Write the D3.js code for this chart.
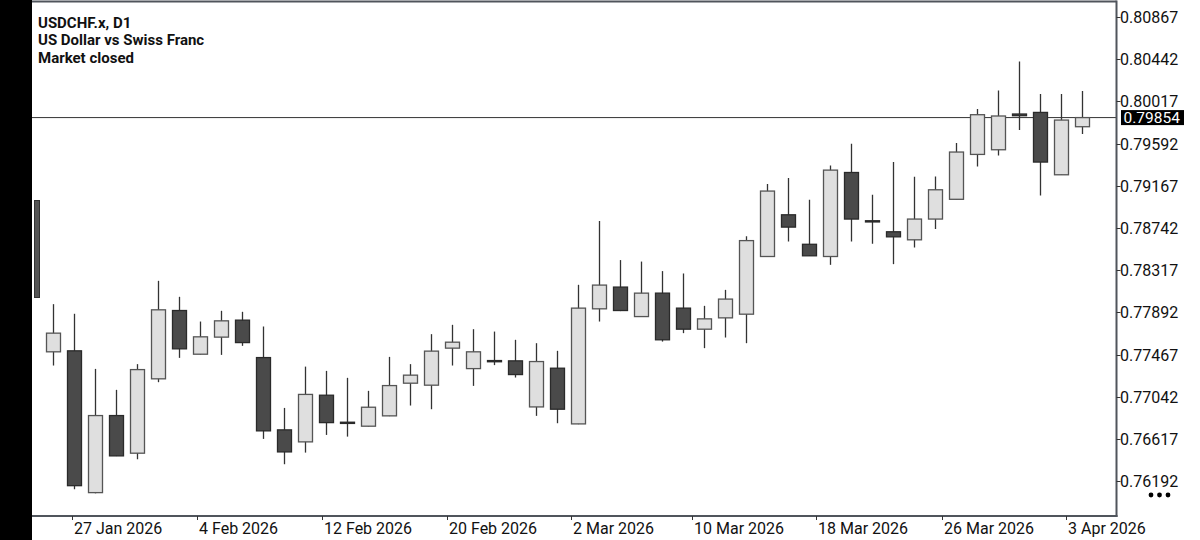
<!DOCTYPE html>
<html><head><meta charset="utf-8">
<script src="https://cdn.jsdelivr.net/npm/d3@7"></script>
<style>
body{margin:0;background:#fff;}
svg{display:block;font-family:Roboto,"Noto Sans",sans-serif;}
</style>
</head><body>
<svg id="c" width="1200" height="540"></svg>
<script>
// ---- data ----
const opens  = [0.77495,0.77505,0.76077,0.76853,0.76474,0.77223,0.77911,0.77471,0.77643,0.77814,
                0.77437,0.76709,0.76588,0.77058,0.76786,0.76746,0.76850,0.77179,0.77159,0.77532,
                0.77326,0.77407,0.77404,0.76940,0.77330,0.76769,0.77928,0.78147,0.77850,0.78086,
                0.77935,0.77723,0.77837,0.77874,0.78455,0.78875,0.78578,0.78455,0.79301,0.78815,
                0.78704,0.78623,0.78832,0.79031,0.79483,0.79530,0.79890,0.79906,0.79278,0.79762];
const highs  = [0.77975,0.77878,0.77323,0.77112,0.77371,0.78210,0.78049,0.77800,0.77908,0.77898,
                0.77750,0.76930,0.77346,0.77303,0.77233,0.77102,0.77444,0.77371,0.77673,0.77767,
                0.77723,0.77699,0.77616,0.77582,0.77505,0.78170,0.78812,0.78419,0.78404,0.78308,
                0.78284,0.77958,0.78119,0.78660,0.79184,0.79245,0.79026,0.79372,0.79590,0.79077,
                0.79406,0.79258,0.79260,0.79597,0.79940,0.80127,0.80420,0.80091,0.80091,0.80121];
const lows   = [0.77357,0.76111,0.76070,0.76445,0.76413,0.77189,0.77434,0.77468,0.77464,0.77555,
                0.76618,0.76363,0.76480,0.76658,0.76641,0.76743,0.76847,0.76954,0.76917,0.77357,
                0.77152,0.77361,0.77236,0.76850,0.76776,0.76766,0.77800,0.77905,0.77847,0.77598,
                0.77683,0.77532,0.77639,0.77582,0.78452,0.78606,0.78460,0.78371,0.78606,0.78583,
                0.78378,0.78546,0.78731,0.79028,0.79362,0.79473,0.79728,0.79069,0.79275,0.79688];
const closes = [0.77683,0.76147,0.76853,0.76447,0.77316,0.77918,0.77525,0.77646,0.77807,0.77588,
                0.76699,0.76487,0.77066,0.76782,0.76786,0.76937,0.77155,0.77260,0.77502,0.77592,
                0.77495,0.77407,0.77266,0.77397,0.76917,0.77935,0.78167,0.77911,0.78086,0.77616,
                0.77723,0.77827,0.78026,0.78615,0.79114,0.78751,0.78462,0.79325,0.78832,0.78815,
                0.78653,0.78832,0.79127,0.79507,0.79883,0.79870,0.79873,0.79406,0.79829,0.79854];
const xTickLabels = ["27 Jan 2026","4 Feb 2026","12 Feb 2026","20 Feb 2026","2 Mar 2026",
                     "10 Mar 2026","18 Mar 2026","26 Mar 2026","3 Apr 2026"];
const xTickBars = [0.89,6.84,12.8,18.73,24.65,30.4,36.3,42.3,48.2];
const yTickValues = [0.80867,0.80442,0.80017,0.79592,0.79167,0.78742,0.78317,0.77892,0.77467,0.77042,0.76617,0.76192];
const lastPrice = 0.79854;
const titleLines = ["USDCHF.x, D1","US Dollar vs Swiss Franc","Market closed"];

// ---- layout ----
const svg = d3.select("#c");
const plot = {left:32, right:1116.5, top:1.5, bottom:516};
const candles = opens.map((o,i)=>({i, o, h:highs[i], l:lows[i], c:closes[i]}));

const x = d3.scaleLinear().domain([0, candles.length-1]).range([53.3, 1082.3]);
const y = d3.scaleLinear().domain([0.76192, 0.80867]).range([481.2, 17.0]);
const bodyW = 14;

// left black strip + scroll handle
svg.append("rect").attr("x",0).attr("y",0).attr("width",plot.left).attr("height",540).attr("fill","#000");
svg.append("rect").attr("x",34.5).attr("y",200.5).attr("width",5).attr("height",97)
   .attr("fill","#555").attr("stroke","#333").attr("stroke-width",1);

// clip
svg.append("clipPath").attr("id","pc").append("rect")
  .attr("x",plot.left).attr("y",plot.top).attr("width",plot.right-plot.left).attr("height",plot.bottom-plot.top);
const g = svg.append("g").attr("clip-path","url(#pc)");

// price line
g.append("line").attr("x1",plot.left).attr("x2",plot.right)
  .attr("y1",y(lastPrice)).attr("y2",y(lastPrice))
  .attr("stroke","#333").attr("stroke-width",1);

// candles
const cg = g.selectAll("g.candle").data(candles).join("g").attr("class","candle");
cg.append("line")
  .attr("x1",d=>Math.round(x(d.i))+0.5).attr("x2",d=>Math.round(x(d.i))+0.5)
  .attr("y1",d=>y(d.h)).attr("y2",d=>y(d.l))
  .attr("stroke","#333").attr("stroke-width",1.3);
cg.append("rect")
  .attr("x",d=>Math.round(x(d.i))+0.5-bodyW/2)
  .attr("y",d=>y(Math.max(d.o,d.c)))
  .attr("width",bodyW)
  .attr("height",d=>Math.max(1.2, Math.abs(y(d.o)-y(d.c))))
  .attr("fill",d=>d.c>d.o?"#dfdfdf":"#4a4a4a")
  .attr("stroke",d=>d.c>d.o?"#555":"#2a2a2a")
  .attr("stroke-width",1.3);

// frame
svg.append("line").attr("x1",plot.left).attr("x2",plot.right).attr("y1",plot.top).attr("y2",plot.top)
   .attr("stroke","#50555c").attr("stroke-width",2);
svg.append("line").attr("x1",plot.right).attr("x2",plot.right).attr("y1",plot.top-1).attr("y2",plot.bottom+1)
   .attr("stroke","#50555c").attr("stroke-width",2);
svg.append("line").attr("x1",plot.left).attr("x2",plot.right+1).attr("y1",plot.bottom).attr("y2",plot.bottom)
   .attr("stroke","#50555c").attr("stroke-width",2);

// y axis
const ya = svg.append("g");
yTickValues.forEach(v=>{
  const yy = Math.round(y(v))+0.5;
  ya.append("line").attr("x1",plot.right).attr("x2",plot.right+4).attr("y1",yy).attr("y2",yy)
    .attr("stroke","#333").attr("stroke-width",1);
  ya.append("text").attr("x",plot.right+3.5).attr("y",yy).attr("dy","0.36em")
    .attr("font-size",16).attr("fill","#111").text(v.toFixed(5));
});
// last price tag
const ly = y(lastPrice);
svg.append("rect").attr("x",1121).attr("y",ly-7.5).attr("width",63).attr("height",15).attr("fill","#000");
svg.append("text").attr("x",1123.5).attr("y",ly).attr("dy","0.36em")
  .attr("font-size",15.5).attr("fill","#fff").text(lastPrice.toFixed(5));

// x axis
const xa = svg.append("g");
xTickBars.forEach((b,k)=>{
  const xx = Math.round(x(b))+0.5;
  xa.append("line").attr("x1",xx).attr("x2",xx).attr("y1",plot.bottom).attr("y2",plot.bottom+4)
    .attr("stroke","#333").attr("stroke-width",1);
  xa.append("text").attr("x",xx+1.5).attr("y",534).attr("font-size",16).attr("fill","#111").text(xTickLabels[k]);
});

// title
titleLines.forEach((t,k)=>{
  svg.append("text").attr("x",38).attr("y",27.5+k*17.8).attr("font-size",15).attr("font-weight","bold")
    .attr("fill","#111").text(t);
});

// more dots
[0,1,2].forEach(k=>{
  svg.append("circle").attr("cx",1151+k*8.5).attr("cy",495).attr("r",2.4).attr("fill","#000");
});
</script>
</body></html>
